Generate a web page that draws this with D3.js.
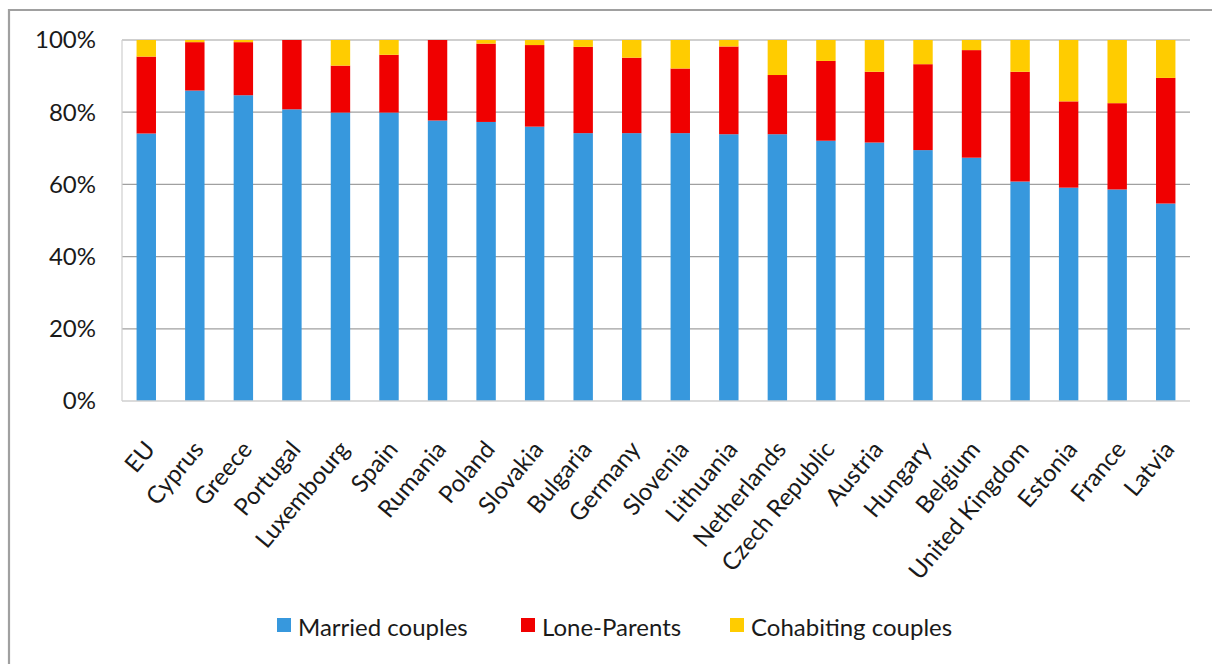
<!DOCTYPE html>
<html>
<head>
<meta charset="utf-8">
<script src="https://cdn.jsdelivr.net/npm/d3@7"></script>
<style>
  html, body { margin: 0; padding: 0; background: #fff; }
  svg { display: block; font-family: Lato, "Open Sans", "Liberation Sans", sans-serif; }
</style>
</head>
<body>
<svg id="chart" width="1212" height="664"></svg>
<script>
// Household composition by country (share of families with children, %)
const categories = ["EU", "Cyprus", "Greece", "Portugal", "Luxembourg", "Spain", "Rumania", "Poland",
  "Slovakia", "Bulgaria", "Germany", "Slovenia", "Lithuania", "Netherlands", "Czech Republic",
  "Austria", "Hungary", "Belgium", "United Kingdom", "Estonia", "France", "Latvia"];
const married = [74.1, 86.0, 84.7, 80.8, 79.9, 79.9, 77.7, 77.3, 76.0, 74.2, 74.2, 74.2, 73.9, 73.9,
  72.1, 71.6, 69.5, 67.4, 60.8, 59.1, 58.6, 54.7];
const loneParents = [21.3, 13.4, 14.7, 19.2, 13.0, 16.0, 22.3, 21.7, 22.6, 23.9, 20.9, 17.9, 24.3, 16.4,
  22.1, 19.6, 23.8, 29.8, 30.4, 23.9, 23.9, 34.8];
const cohabiting = [4.6, 0.6, 0.6, 0.0, 7.1, 4.1, 0.0, 1.0, 1.4, 1.9, 4.9, 7.9, 1.8, 9.7,
  5.8, 8.8, 6.7, 2.8, 8.8, 17.0, 17.5, 10.5];
const seriesNames = ["Married couples", "Lone-Parents", "Cohabiting couples"];
const seriesColors = ["#3798dd", "#f00000", "#ffcc00"];
const yTicks = [0, 20, 40, 60, 80, 100];

const svg = d3.select("#chart");
const W = 1212, H = 664;
const plot = { left: 122, right: 1190, top: 40, bottom: 401 };
const legendX = [277, 521, 730];

svg.append("rect").attr("width", W).attr("height", H).attr("fill", "#fff");

// outer chart frame (top and left edges)
svg.append("path")
  .attr("d", `M9,${H} L9,10 L${W},10`)
  .attr("fill", "none").attr("stroke", "#a0a0a0").attr("stroke-width", 2.2);

const rows = categories.map((c, i) => ({
  country: c,
  married: married[i],
  lone: loneParents[i],
  cohab: cohabiting[i]
}));
const keys = ["married", "lone", "cohab"];
const stacked = d3.stack().keys(keys)(rows);

const x = d3.scaleBand().domain(categories).range([plot.left, plot.right])
  .paddingInner(0.6).paddingOuter(0.3);
const y = d3.scaleLinear().domain([0, 100]).range([plot.bottom, plot.top]);

// gridlines
svg.append("g").selectAll("line").data(yTicks.filter(t => t > 0)).join("line")
  .attr("x1", plot.left).attr("x2", plot.right)
  .attr("y1", d => y(d)).attr("y2", d => y(d))
  .attr("stroke", "#a0a0a0").attr("stroke-width", 1.2);

// axis lines
svg.append("line").attr("x1", plot.left).attr("x2", plot.left)
  .attr("y1", plot.top).attr("y2", plot.bottom)
  .attr("stroke", "#cfcfcf").attr("stroke-width", 1.2);

// stacked bars
svg.append("g").selectAll("g").data(stacked).join("g")
  .attr("fill", (d, i) => seriesColors[i])
  .selectAll("rect").data(d => d).join("rect")
  .attr("x", d => x(d.data.country))
  .attr("width", x.bandwidth())
  .attr("y", d => y(d[1]))
  .attr("height", d => Math.max(0, y(d[0]) - y(d[1])));

svg.append("line").attr("x1", plot.left).attr("x2", plot.right)
  .attr("y1", plot.bottom).attr("y2", plot.bottom)
  .attr("stroke", "#cfcfcf").attr("stroke-width", 1.5);

// y tick labels
svg.append("g").selectAll("text").data(yTicks).join("text")
  .attr("x", 96).attr("y", d => y(d))
  .attr("dy", "0.35em")
  .attr("text-anchor", "end")
  .attr("font-size", 24).attr("fill", "#1a1a1a")
  .text(d => d + "%");

// rotated category labels
svg.append("g").selectAll("text").data(categories).join("text")
  .attr("text-anchor", "end")
  .attr("font-size", 24).attr("fill", "#1a1a1a")
  .attr("transform", d =>
    `translate(${x(d) + x.bandwidth() / 2 + 10},${plot.bottom + 49}) rotate(-50)`)
  .text(d => d);

// legend
const legend = svg.append("g");
seriesNames.forEach((name, i) => {
  const g = legend.append("g").attr("transform", `translate(${legendX[i]},0)`);
  g.append("rect").attr("x", 0).attr("y", 618).attr("width", 14).attr("height", 14)
    .attr("fill", seriesColors[i]);
  g.append("text").attr("x", 21).attr("y", 636)
    .attr("font-size", 24).attr("fill", "#1a1a1a").text(name);
});
</script>
</body>
</html>
